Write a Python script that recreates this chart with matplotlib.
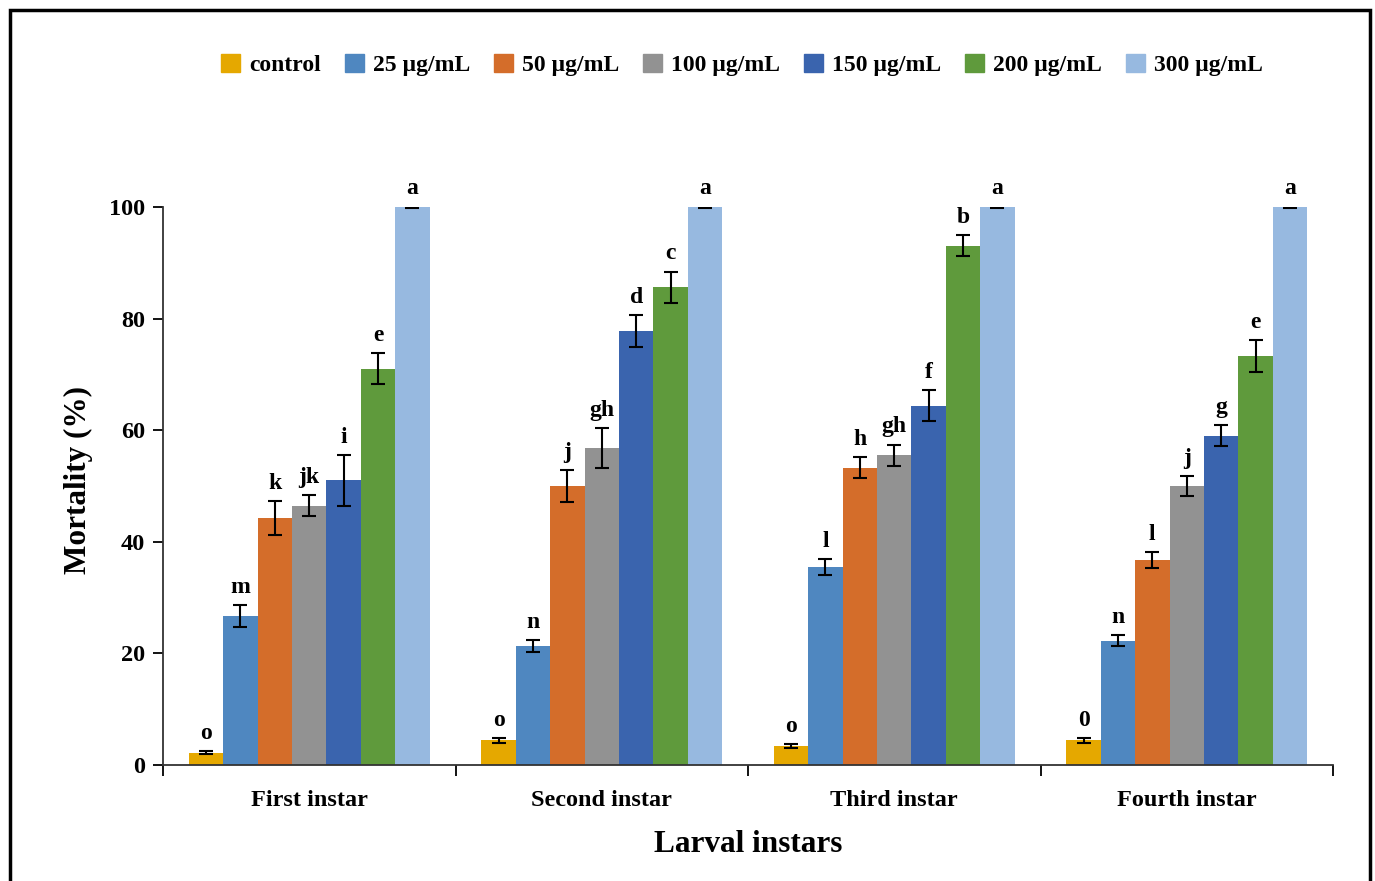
import matplotlib.pyplot as plt
import numpy as np
from matplotlib.patches import Rectangle

plt.rcParams['font.family'] = ['Liberation Serif', 'DejaVu Serif']
plt.rcParams['font.weight'] = 'bold'

# data
instars = ["First instar", "Second instar", "Third instar", "Fourth instar"]
doses = ["control", "25 µg/mL", "50 µg/mL", "100 µg/mL", "150 µg/mL", "200 µg/mL", "300 µg/mL"]
colors = ["#E5A800", "#4F87C0", "#D46D2A", "#929292", "#3A64AE", "#5F9A3C", "#97B9E0"]

# mortality per dose, one value per instar
control = [2.2, 4.4, 3.4, 4.4]
d25 = [26.7, 21.3, 35.5, 22.3]
d50 = [44.3, 50.0, 53.3, 36.7]
d100 = [46.5, 56.8, 55.5, 50.0]
d150 = [51.0, 77.8, 64.4, 59.0]
d200 = [71.0, 85.6, 93.1, 73.3]
d300 = [100.0, 100.0, 100.0, 100.0]

err_control = [0.3, 0.4, 0.4, 0.4]
err25 = [2.0, 1.1, 1.4, 1.0]
err50 = [3.0, 2.8, 1.9, 1.4]
err100 = [1.9, 3.6, 1.9, 1.8]
err150 = [4.5, 2.8, 2.8, 1.9]
err200 = [2.8, 2.8, 1.9, 2.8]
err300 = [0.1, 0.1, 0.1, 0.1]

letters = [
    ["o", "o", "o", "0"],
    ["m", "n", "l", "n"],
    ["k", "j", "h", "l"],
    ["jk", "gh", "gh", "j"],
    ["i", "d", "f", "g"],
    ["e", "c", "b", "e"],
    ["a", "a", "a", "a"],
]

values = [control, d25, d50, d100, d150, d200, d300]
errors = [err_control, err25, err50, err100, err150, err200, err300]

fig = plt.figure(figsize=(13.75, 8.81), dpi=100)
ax = fig.add_axes([163 / 1375, 1 - 765 / 881, 1170 / 1375, 558 / 881])

n = len(doses)
width = 1 / (n + 1.5)
x = np.arange(len(instars))
for i in range(n):
    pos = x + (i - (n - 1) / 2) * width
    ax.bar(pos, values[i], width, color=colors[i], label=doses[i], zorder=2)
    ax.errorbar(pos, values[i], yerr=errors[i], fmt="none", ecolor="black",
                elinewidth=1.5, capsize=5, capthick=1.5, zorder=3)
    for j in range(len(instars)):
        ax.text(pos[j], values[i][j] + errors[i][j] + 1.3, letters[i][j],
                ha="center", va="bottom", fontsize=17, fontweight="bold", clip_on=False)

ax.set_xlim(-0.5, len(instars) - 0.5)
ax.set_ylim(0, 100)
ax.set_yticks([0, 20, 40, 60, 80, 100])
ax.set_xticks(np.arange(len(instars) + 1) - 0.5, minor=False)
ax.set_xticklabels([])
ax.set_xticks(x, minor=True)
ax.set_xticklabels(instars, minor=True)
ax.tick_params(axis="x", which="minor", length=0, pad=18, labelsize=17.5)
ax.tick_params(axis="x", which="major", length=8, width=1.3, direction="out")
ax.tick_params(axis="y", length=7, width=1.3, labelsize=17.5, pad=6)
for lbl in ax.get_xticklabels(minor=True) + ax.get_yticklabels():
    lbl.set_fontweight("bold")

for s in ["top", "right"]:
    ax.spines[s].set_visible(False)
for s in ["left", "bottom"]:
    ax.spines[s].set_linewidth(1.3)
    ax.spines[s].set_color("#333333")

ax.set_ylabel("Mortality (%)", fontsize=22.5, fontweight="bold")
ax.yaxis.set_label_coords(-0.06, 0.51)
ax.set_xlabel("Larval instars", fontsize=22.5, fontweight="bold", labelpad=14)

handles = [Rectangle((0, 0), 1, 1, color=c) for c in colors]
fig.legend(handles, doses, loc="center", bbox_to_anchor=(742 / 1375, 1 - 65 / 881),
           ncol=n, frameon=False, prop={"weight": "bold", "size": 17},
           handlelength=0.8, handleheight=0.8, handletextpad=0.4, columnspacing=1.0)

# outer chart border
fig.patches.append(Rectangle((10 / 1375, -0.01), 1360 / 1375, 1 - 10 / 881 + 0.01,
                             transform=fig.transFigure, fill=False,
                             edgecolor="black", linewidth=2.5))

plt.savefig("out.png", dpi=100)
